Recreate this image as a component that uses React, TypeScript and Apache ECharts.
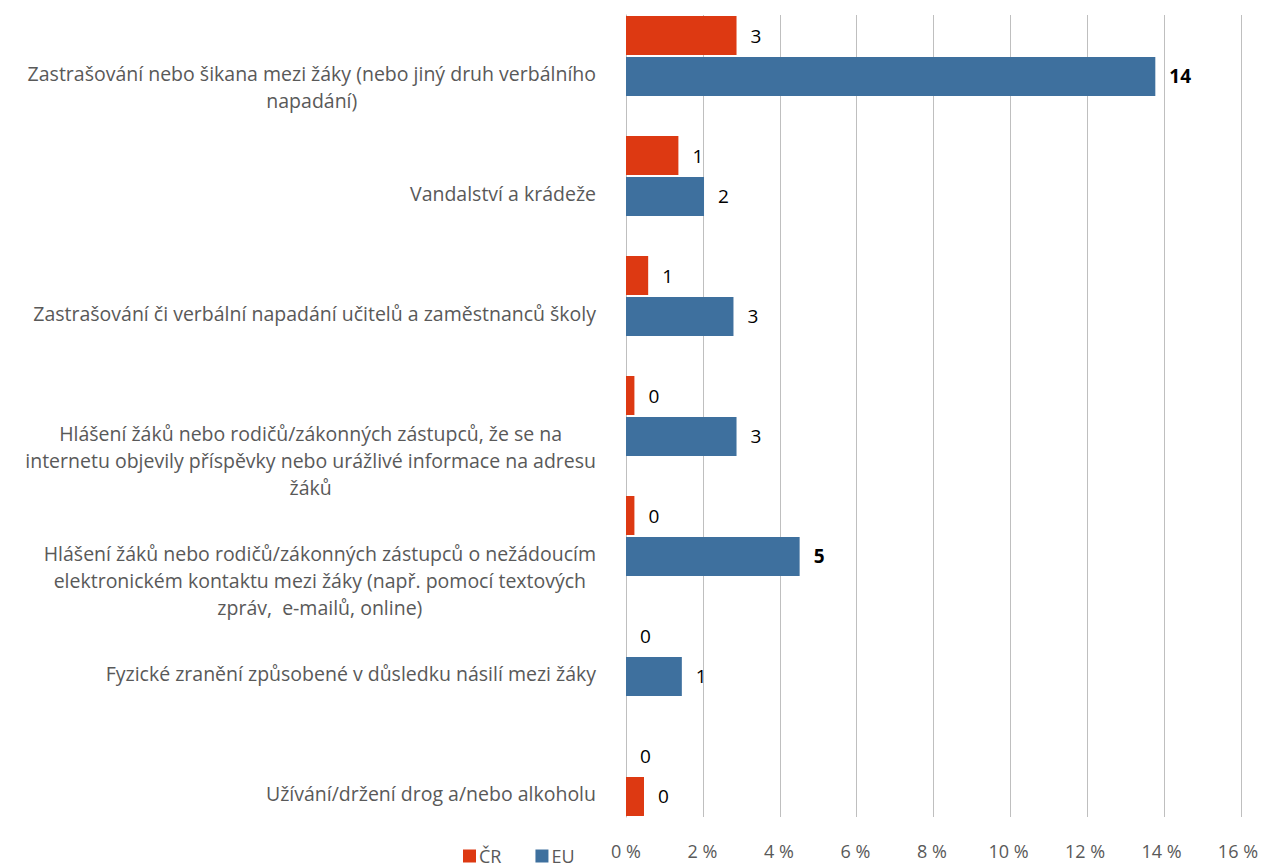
import React, { useEffect, useRef } from "react";
import * as echarts from "echarts";

const categories = [
  "Zastrašování nebo šikana mezi žáky (nebo jiný druh verbálního\nnapadání)",
  "Vandalství a krádeže",
  "Zastrašování či verbální napadání učitelů a zaměstnanců školy",
  "Hlášení žáků nebo rodičů/zákonných zástupců, že se na\ninternetu objevily příspěvky nebo urážlivé informace na adresu\nžáků",
  "Hlášení žáků nebo rodičů/zákonných zástupců o nežádoucím\nelektronickém kontaktu mezi žáky (např. pomocí textových\nzpráv,  e-mailů, online)",
  "Fyzické zranění způsobené v důsledku násilí mezi žáky",
  "Užívání/držení drog a/nebo alkoholu",
];

const crValues = [2.89, 1.37, 0.58, 0.22, 0.22, 0, 0];
const euValues = [13.84, 2.04, 2.81, 2.89, 4.54, 1.46, 0.47];
const boldEuIndexes = [0, 4];
const redEuIndexes = [6];

const xTicks = [0, 2, 4, 6, 8, 10, 12, 14, 16];

const RED = "#DD3912";
const BLUE = "#3E709E";
const GRAY_TEXT = "#595959";
const GRID_GRAY = "#BFBFBF";
const FONT = "Open Sans";

export default function App() {
  const ref = useRef<HTMLDivElement>(null);

  useEffect(() => {
    if (!ref.current) return;
    const chart = echarts.init(ref.current, null, { renderer: "svg" });

    const labelBase = {
      show: true,
      position: "right" as const,
      distance: 14,
      color: "#000",
      fontSize: 19,
      fontFamily: FONT,
      formatter: (p: any) => String(Math.round(p.value)),
    };

    const xMin = xTicks[0];
    const xMax = xTicks[xTicks.length - 1];

    chart.setOption({
      animation: false,
      backgroundColor: "#fff",
      textStyle: { fontFamily: FONT },
      grid: [
        { left: 626, right: 20, top: 0, bottom: 32, containLabel: false },
        { left: 626, right: 20, top: 19, bottom: 51, containLabel: false },
      ],
      legend: {
        data: ["ČR", "EU"],
        left: 458,
        top: 846,
        icon: "rect",
        itemWidth: 13,
        itemHeight: 13,
        itemGap: 34,
        textStyle: { color: GRAY_TEXT, fontSize: 18, fontFamily: FONT, padding: [0, 0, 0, -2] },
      },
      xAxis: [
        {
          type: "value",
          gridIndex: 0,
          min: xMin,
          max: xMax,
          interval: 2,
          axisLine: { show: false },
          axisTick: { show: false },
          axisLabel: {
            color: GRAY_TEXT,
            fontSize: 18,
            fontFamily: FONT,
            margin: 6,
            formatter: (v: number) => `${v} %`,
          },
          splitLine: { show: false },
        },
        {
          type: "value",
          gridIndex: 1,
          min: xMin,
          max: xMax,
          interval: 2,
          axisLine: { show: false },
          axisTick: { show: false },
          axisLabel: { show: false },
          splitLine: { show: true, lineStyle: { color: GRID_GRAY, width: 1 } },
        },
      ],
      yAxis: [
        {
          type: "category",
          gridIndex: 0,
          data: categories,
          inverse: true,
          axisLine: { show: false },
          axisTick: { show: false },
          axisLabel: {
            color: GRAY_TEXT,
            fontSize: 19.5,
            fontFamily: FONT,
            lineHeight: 27,
            margin: 30,
            align: "right",
            verticalAlign: "top",
            padding: [4, 0, 0, 0],
            formatter: (v: string) =>
              v
                .split("\n")
                .map((l) => `{c|${l}}`)
                .join("\n"),
            rich: {
              c: {
                align: "center",
                color: GRAY_TEXT,
                fontSize: 19.5,
                fontFamily: FONT,
                lineHeight: 27,
              },
            },
          },
          splitLine: { show: false },
        },
        {
          type: "value",
          gridIndex: 1,
          min: 0,
          max: 1,
          axisLine: { show: true, onZero: false, lineStyle: { color: GRID_GRAY, width: 1 } },
          axisTick: { show: false },
          axisLabel: { show: false },
          splitLine: { show: false },
        },
      ],
      series: [
        {
          name: "ČR",
          type: "bar",
          xAxisIndex: 0,
          yAxisIndex: 0,
          barWidth: 39,
          barGap: "5%",
          itemStyle: { color: RED },
          label: labelBase,
          data: crValues.map((v) => ({ value: v })),
        },
        {
          name: "EU",
          type: "bar",
          xAxisIndex: 0,
          yAxisIndex: 0,
          barWidth: 39,
          barGap: "5%",
          itemStyle: { color: BLUE },
          label: labelBase,
          data: euValues.map((v, i) => {
            const item: any = { value: v };
            if (boldEuIndexes.includes(i)) item.label = { fontWeight: "bold" };
            if (redEuIndexes.includes(i)) item.itemStyle = { color: RED };
            return item;
          }),
        },
      ],
    });

    return () => chart.dispose();
  }, []);

  return (
    <div
      ref={ref}
      style={{ position: "absolute", left: 0, top: -4, width: 1261, height: 872 }}
    />
  );
}
